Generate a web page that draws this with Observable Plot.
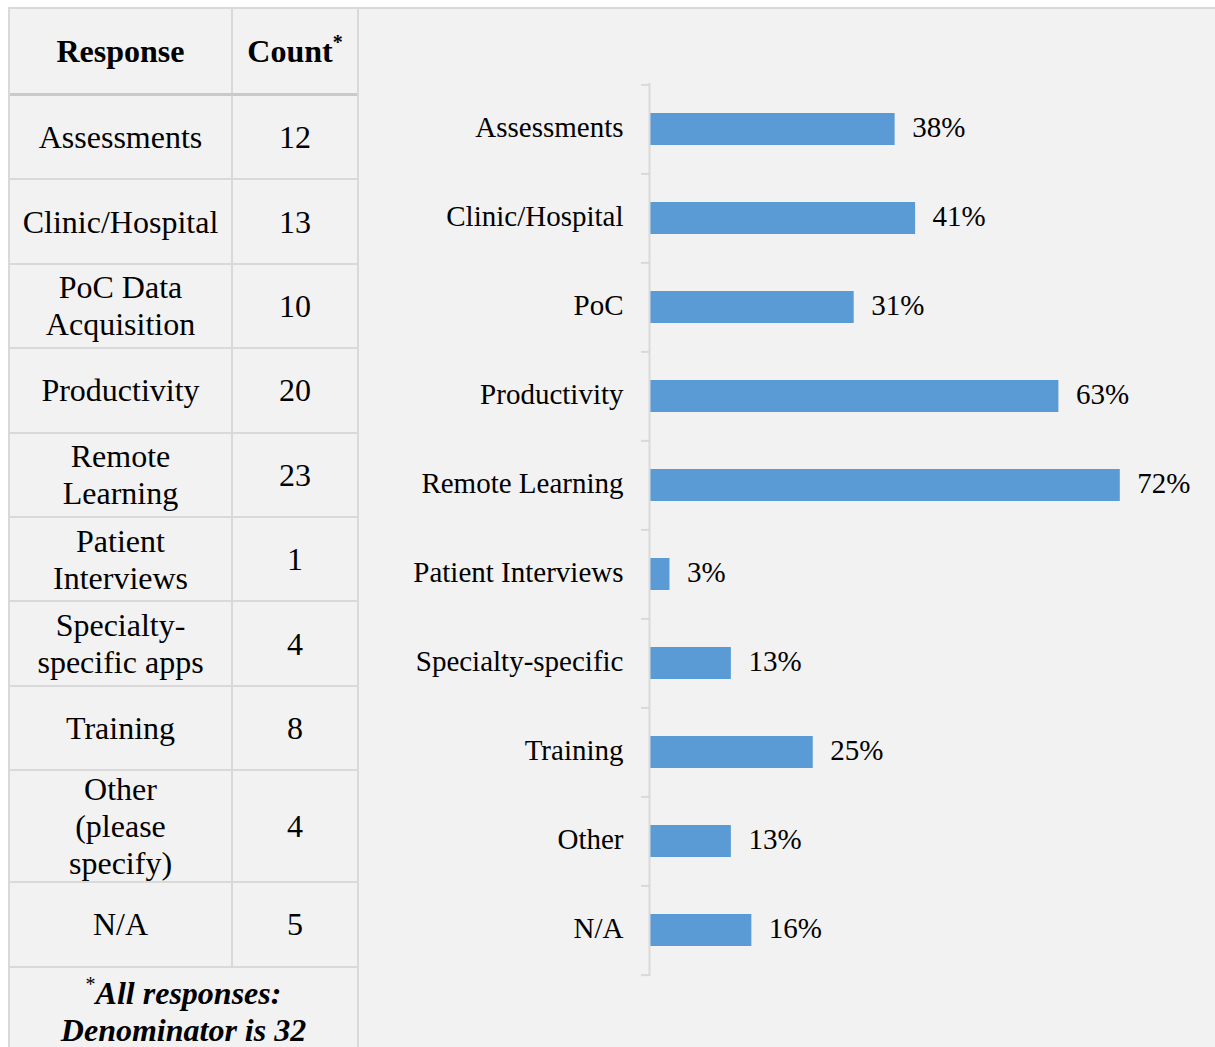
<!DOCTYPE html>
<html>
<head>
<meta charset="utf-8">
<script src="https://cdn.jsdelivr.net/npm/d3@7"></script>
<script src="https://cdn.jsdelivr.net/npm/@observablehq/plot@0.6"></script>
<style>
  html, body { margin: 0; padding: 0; background: #ffffff; }
  body { width: 1215px; height: 1047px; overflow: hidden; position: relative;
         font-family: "Liberation Serif", "Times New Roman", serif; color: #000; }
  #frame { position: absolute; left: 8px; top: 7px; width: 1207px; height: 1040px;
           border-top: 2px solid #d9d9d9; border-left: 2px solid #d9d9d9; box-sizing: border-box;
           background: #f2f2f2; }
  #table { position: absolute; left: 10px; top: 9px; width: 349px; height: 1038px;
           border-right: 2px solid #d9d9d9; box-sizing: border-box; background: #f2f2f2; }
  .row { display: flex; box-sizing: border-box; border-bottom: 2px solid #d9d9d9; }
  .row.head { border-bottom: 3px solid #cacaca; }
  .cell { display: flex; align-items: center; justify-content: center; text-align: center;
          font-size: 32px; line-height: 37px; box-sizing: border-box; padding-top: 1px; }
  .c1 { width: 223px; border-right: 2px solid #d9d9d9; }
  .c2 { flex: 1; }
  .head .cell { font-weight: bold; padding-top: 0; }
  sup { font-size: 20px; line-height: 0; position: relative; top: -13px; vertical-align: baseline; }
  .foot { font-weight: bold; font-style: italic; font-size: 32px; line-height: 37px;
          text-align: center; padding-top: 7px; }
  .foot sup { font-style: normal; font-weight: normal; }
  #chart { position: absolute; left: 359px; top: 9px; }
</style>
</head>
<body>
<div id="frame"></div>
<div id="table"></div>
<div id="chart"></div>
<script>
// ---- data ----
const categories = ["Assessments", "Clinic/Hospital", "PoC", "Productivity", "Remote Learning",
                    "Patient Interviews", "Specialty-specific", "Training", "Other", "N/A"];
const tableLabels = [["Assessments"], ["Clinic/Hospital"], ["PoC Data", "Acquisition"], ["Productivity"],
                     ["Remote", "Learning"], ["Patient", "Interviews"], ["Specialty-", "specific apps"],
                     ["Training"], ["Other", "(please", "specify)"], ["N/A"]];
const counts = [12, 13, 10, 20, 23, 1, 4, 8, 4, 5];
const denominator = 32;
const headers = ["Response", "Count"];
const footnote = ["All responses:", "Denominator is 32"];

// ---- table ----
const table = document.getElementById("table");
const rowHeights = tableLabels.map(l => l.length > 2 ? 112 : 84.4);
let html = `<div class="row head" style="height:87px"><div class="cell c1"><span>${headers[0]}</span></div><div class="cell c2"><span>${headers[1]}<sup>*</sup></span></div></div>`;
tableLabels.forEach((lines, i) => {
  html += `<div class="row" style="height:${rowHeights[i]}px"><div class="cell c1"><span>${lines.join("<br>")}</span></div><div class="cell c2"><span>${counts[i]}</span></div></div>`;
});
html += `<div class="foot"><sup>*</sup>${footnote[0]}<br>${footnote[1]}</div>`;
table.innerHTML = html;

// ---- chart ----
const data = categories.map((name, i) => ({name, pct: counts[i] / denominator}));
const W = 856, H = 1038, mt = 74, mb = 71;
const step = (H - mt - mb) / categories.length;
const axisColor = "#d9d9d9";

const chart = Plot.plot({
  width: W, height: H,
  marginLeft: 290, marginRight: 42, marginTop: mt, marginBottom: mb,
  style: {background: "transparent", fontFamily: "'Liberation Serif', 'Times New Roman', serif",
          fontSize: "29px", color: "#000"},
  x: {domain: [0, 0.8], axis: null},
  y: {domain: categories, paddingInner: 0.64, paddingOuter: 0.32, axis: null, label: null},
  marks: [
    Plot.barX(data, {x: "pct", y: "name", fill: "#5b9bd5"}),
    Plot.ruleX([0], {stroke: axisColor, strokeWidth: 2}),
    Plot.axisY({tickSize: 0, tickPadding: 26, fontSize: 29, fill: "#000", dy: -2, label: null}),
    Plot.axisY({tickSize: 8, tickFormat: () => "", dy: -step / 2, stroke: axisColor, strokeWidth: 2, label: null}),
    Plot.axisY([categories[categories.length - 1]], {tickSize: 8, tickFormat: () => "", dy: step / 2,
                stroke: axisColor, strokeWidth: 2, label: null}),
    Plot.text(data, {x: "pct", y: "name", text: d => Math.round(d.pct * 100) + "%",
                     dx: 17, dy: -1.5, textAnchor: "start", fontSize: 29, fill: "#000"})
  ]
});
document.getElementById("chart").appendChild(chart);
</script>
</body>
</html>
